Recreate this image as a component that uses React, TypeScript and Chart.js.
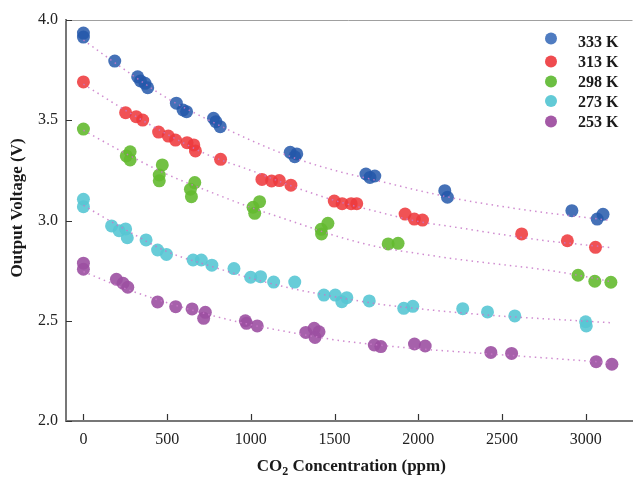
import React, { useEffect, useRef } from 'react';
import { Chart, registerables } from 'chart.js';

Chart.register(...registerables);

const SERIES_LABELS = ['333 K', '313 K', '298 K', '273 K', '253 K'];
const X_TICKS = [0, 500, 1000, 1500, 2000, 2500, 3000];
const Y_TICKS = [2.0, 2.5, 3.0, 3.5, 4.0];

const K333_X = [0, 0, 187, 324, 341, 368, 384, 555, 595, 616, 777, 791, 817, 1235, 1274, 1262, 1687, 1711, 1740, 2158, 2174, 2917, 3068, 3103];
const K333_Y = [3.935, 3.915, 3.795, 3.717, 3.696, 3.684, 3.662, 3.585, 3.551, 3.543, 3.51, 3.493, 3.468, 3.34, 3.332, 3.318, 3.232, 3.215, 3.222, 3.149, 3.116, 3.049, 3.007, 3.031];

const K313_X = [0, 252, 315, 354, 449, 507, 550, 619, 659, 669, 819, 1066, 1124, 1170, 1239, 1498, 1545, 1599, 1632, 1921, 1976, 2025, 2617, 2890, 3058];
const K313_Y = [3.691, 3.538, 3.518, 3.501, 3.441, 3.421, 3.401, 3.388, 3.377, 3.347, 3.305, 3.205, 3.197, 3.199, 3.176, 3.097, 3.084, 3.084, 3.084, 3.032, 3.007, 3.002, 2.933, 2.899, 2.866];

const K298_X = [0, 279, 256, 279, 471, 453, 453, 665, 639, 645, 1052, 1013, 1023, 1460, 1420, 1422, 1820, 1879, 2954, 3054, 3150];
const K298_Y = [3.456, 3.343, 3.322, 3.302, 3.277, 3.227, 3.198, 3.189, 3.156, 3.119, 3.094, 3.066, 3.036, 2.986, 2.956, 2.933, 2.883, 2.886, 2.727, 2.697, 2.692];

const K273_X = [0, 0, 168, 213, 252, 262, 374, 443, 496, 655, 704, 767, 899, 999, 1058, 1136, 1262, 1436, 1504, 1573, 1543, 1707, 1913, 1967, 2265, 2413, 2576, 2999, 3003];
const K273_Y = [3.106, 3.069, 2.973, 2.949, 2.958, 2.914, 2.903, 2.853, 2.831, 2.803, 2.803, 2.777, 2.76, 2.717, 2.72, 2.693, 2.693, 2.628, 2.628, 2.615, 2.595, 2.599, 2.562, 2.572, 2.56, 2.544, 2.524, 2.495, 2.474];

const K253_X = [0, 0, 197, 237, 265, 443, 551, 649, 728, 718, 967, 974, 1038, 1328, 1378, 1407, 1383, 1737, 1776, 1977, 2041, 2433, 2557, 3062, 3156];
const K253_Y = [2.787, 2.757, 2.707, 2.687, 2.667, 2.594, 2.57, 2.559, 2.542, 2.512, 2.5, 2.487, 2.474, 2.442, 2.462, 2.445, 2.417, 2.379, 2.371, 2.384, 2.374, 2.342, 2.337, 2.296, 2.283];

const TREND_X = [0, 250, 500, 750, 1000, 1250, 1500, 1750, 2000, 2250, 2500, 2750, 3000, 3150];
const TREND_333 = [3.9, 3.75, 3.61, 3.5, 3.4, 3.315, 3.25, 3.2, 3.15, 3.105, 3.07, 3.04, 3.015, 3.0];
const TREND_313 = [3.68, 3.55, 3.43, 3.325, 3.25, 3.17, 3.1, 3.045, 2.995, 2.963, 2.93, 2.9, 2.878, 2.865];
const TREND_298 = [3.45, 3.335, 3.23, 3.145, 3.065, 2.995, 2.925, 2.87, 2.835, 2.805, 2.78, 2.755, 2.72, 2.695];
const TREND_273 = [3.075, 2.955, 2.845, 2.775, 2.712, 2.66, 2.62, 2.585, 2.56, 2.54, 2.523, 2.51, 2.498, 2.49];
const TREND_253 = [2.745, 2.66, 2.59, 2.53, 2.48, 2.44, 2.405, 2.38, 2.36, 2.345, 2.33, 2.315, 2.3, 2.29];

const POINT_COLORS = ['rgba(36,88,170,0.85)', 'rgba(238,58,62,0.88)', 'rgba(100,186,48,0.9)', 'rgba(88,198,212,0.9)', 'rgba(156,80,162,0.9)'];
const LEGEND_COLORS = ['#4f7cc1', '#ef4b4f', '#6cbf43', '#62cad6', '#a459a6'];
const TREND_COLOR = 'rgba(200,120,200,0.85)';
const FONT = "'Liberation Serif', 'Times New Roman', serif";

const zip = (xs: number[], ys: number[]) => xs.map((x, i) => ({ x, y: ys[i] }));

const decoPlugin = {
  id: 'deco',
  afterDraw(chart: any) {
    const { ctx, chartArea: ca, scales } = chart;
    const xs = scales.x;
    const ys = scales.y;
    ctx.save();
    // top frame line
    ctx.strokeStyle = '#a0a0a0';
    ctx.lineWidth = 1;
    ctx.beginPath();
    ctx.moveTo(ca.left - 1, ca.top + 0.5);
    ctx.lineTo(ca.right, ca.top + 0.5);
    ctx.stroke();
    // tick marks (inward)
    ctx.strokeStyle = '#333';
    ctx.lineWidth = 1.2;
    ctx.beginPath();
    X_TICKS.forEach((v) => {
      const px = Math.round(xs.getPixelForValue(v)) + 0.5;
      ctx.moveTo(px, ca.bottom - 1);
      ctx.lineTo(px, ca.bottom - 7);
    });
    Y_TICKS.forEach((v) => {
      const py = Math.round(ys.getPixelForValue(v)) + 0.5;
      ctx.moveTo(ca.left, py);
      ctx.lineTo(ca.left + 6, py);
    });
    ctx.stroke();

    // legend
    const markerY = [38.5, 61.5, 81.5, 101, 121.5];
    const textY = [43, 63, 83, 103, 123];
    SERIES_LABELS.forEach((lab, i) => {
      ctx.fillStyle = LEGEND_COLORS[i];
      ctx.beginPath();
      ctx.arc(551, markerY[i], 6, 0, Math.PI * 2);
      ctx.fill();
      ctx.fillStyle = '#1a1a1a';
      ctx.font = `bold 16px ${FONT}`;
      ctx.textAlign = 'left';
      ctx.textBaseline = 'middle';
      ctx.fillText(lab, 578, textY[i]);
    });

    // x title with subscript
    ctx.fillStyle = '#1a1a1a';
    ctx.textBaseline = 'alphabetic';
    const big = `bold 17px ${FONT}`;
    const small = `bold 12px ${FONT}`;
    const p1 = 'CO';
    const p2 = '2';
    const p3 = ' Concentration (ppm)';
    ctx.font = big;
    const w1 = ctx.measureText(p1).width;
    const w3 = ctx.measureText(p3).width;
    ctx.font = small;
    const w2 = ctx.measureText(p2).width;
    const total = w1 + w2 + w3;
    let sx = (ca.left + ca.right) / 2 - total / 2 + 2;
    const base = 471;
    ctx.textAlign = 'left';
    ctx.font = big;
    ctx.fillText(p1, sx, base);
    sx += w1;
    ctx.font = small;
    ctx.fillText(p2, sx, base + 4);
    sx += w2;
    ctx.font = big;
    ctx.fillText(p3, sx, base);

    // y title
    ctx.save();
    ctx.translate(18, 208);
    ctx.rotate(-Math.PI / 2);
    ctx.font = big;
    ctx.textAlign = 'center';
    ctx.textBaseline = 'middle';
    ctx.fillText('Output Voltage (V)', 0, 0);
    ctx.restore();

    ctx.restore();
  },
};

export default function App() {
  const ref = useRef<HTMLCanvasElement | null>(null);

  useEffect(() => {
    if (!ref.current) return;
    const scatterSets = [
      zip(K333_X, K333_Y),
      zip(K313_X, K313_Y),
      zip(K298_X, K298_Y),
      zip(K273_X, K273_Y),
      zip(K253_X, K253_Y),
    ].map((data, i) => ({
      type: 'scatter' as const,
      label: SERIES_LABELS[i],
      data,
      backgroundColor: POINT_COLORS[i],
      borderWidth: 0,
      pointRadius: 6.5,
      pointHoverRadius: 6.5,
      order: 2,
    }));
    const trendSets = [TREND_333, TREND_313, TREND_298, TREND_273, TREND_253].map((ys, i) => ({
      type: 'line' as const,
      label: 'trend ' + SERIES_LABELS[i],
      data: zip(TREND_X, ys),
      borderColor: TREND_COLOR,
      borderWidth: 1.5,
      borderDash: [1.5, 4],
      pointRadius: 0,
      fill: false,
      cubicInterpolationMode: 'monotone' as const,
      order: 1,
    }));

    const chart = new Chart(ref.current, {
      type: 'scatter',
      data: { datasets: [...trendSets, ...scatterSets] as any },
      options: {
        animation: false,
        responsive: false,
        devicePixelRatio: 1,
        layout: { padding: { top: 20, right: 0, left: 0, bottom: 0 } },
        plugins: { legend: { display: false }, tooltip: { enabled: false } },
        scales: {
          x: {
            type: 'linear',
            min: -104,
            max: 3279,
            afterFit: (s: any) => { s.height = 62; },
            afterBuildTicks: (s: any) => { s.ticks = X_TICKS.map((v) => ({ value: v })); },
            ticks: {
              callback: (v: any) => String(v),
              font: { family: FONT, size: 16 },
              color: '#222',
              padding: 9,
              maxRotation: 0,
              autoSkip: false,
            },
            grid: { display: false, drawTicks: false },
            border: { color: '#777', width: 2 },
          },
          y: {
            type: 'linear',
            min: 2,
            max: 4,
            afterFit: (s: any) => { s.width = 66; },
            afterBuildTicks: (s: any) => { s.ticks = Y_TICKS.map((v) => ({ value: v })); },
            ticks: {
              callback: (v: any) => Number(v).toFixed(1),
              font: { family: FONT, size: 16 },
              color: '#222',
              padding: 8,
            },
            grid: { display: false, drawTicks: false },
            border: { color: '#777', width: 2 },
          },
        },
      },
      plugins: [decoPlugin],
    });
    return () => chart.destroy();
  }, []);

  return (
    <div style={{ position: 'absolute', left: 0, top: 0, width: 639, height: 483, background: '#fff' }}>
      <canvas ref={ref} width={639} height={483} style={{ width: 639, height: 483, display: 'block' }} />
    </div>
  );
}
